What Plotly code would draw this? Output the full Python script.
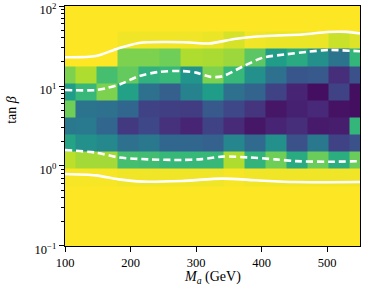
import plotly.graph_objects as go

# Grid: heavy Higgs mass (GeV) and tan(beta) cell centres
masses = [100, 132.1, 164.3, 196.4, 228.6, 260.7, 292.9, 325.0, 357.1, 389.3, 421.4, 453.6, 485.7, 517.9, 550]
tanb = [0.1, 0.164, 0.268, 0.439, 0.720, 1.18, 1.93, 3.16, 5.18, 8.48, 13.9, 22.8, 37.3, 61.1, 100]

Y1 = [1.0] * 15
row_a = [0.99, 0.99, 0.99, 0.98, 0.98, 0.98, 0.98, 0.98, 0.99, 0.98, 0.98, 0.98, 0.98, 0.98, 0.98]
row_b = [0.90, 0.86, 0.86, 0.70, 0.69, 0.67, 0.67, 0.67, 0.88, 0.65, 0.78, 0.61, 0.77, 0.62, 0.77]
row_c = [0.58, 0.50, 0.47, 0.37, 0.40, 0.33, 0.33, 0.31, 0.46, 0.34, 0.50, 0.25, 0.40, 0.20, 0.25]
row_d = [0.40, 0.41, 0.33, 0.17, 0.22, 0.14, 0.10, 0.20, 0.12, 0.06, 0.10, 0.13, 0.07, 0.08, 0.66]
row_e = [0.78, 0.38, 0.37, 0.33, 0.20, 0.19, 0.18, 0.28, 0.22, 0.15, 0.06, 0.09, 0.11, 0.05, 0.04]
row_f = [0.55, 0.67, 0.80, 0.57, 0.37, 0.30, 0.45, 0.55, 0.37, 0.32, 0.20, 0.10, 0.04, 0.20, 0.04]
row_g = [0.80, 0.88, 0.70, 0.76, 0.64, 0.67, 0.52, 0.80, 0.67, 0.50, 0.37, 0.27, 0.28, 0.13, 0.25]
row_h = [1.00, 1.00, 1.00, 0.80, 0.80, 0.78, 0.88, 0.87, 0.85, 0.74, 0.55, 0.61, 0.50, 0.38, 0.66]
row_i = [1.00, 1.00, 1.00, 0.98, 0.98, 0.98, 0.98, 0.97, 0.94, 0.98, 0.97, 0.97, 0.97, 0.92, 0.95]
z_rows = [Y1, Y1, Y1, Y1, row_a, row_b, row_c, row_d, row_e, row_f, row_g, row_h, row_i, Y1, Y1]

# Contour lines
up_solid_m = [100, 147, 181, 213, 254, 290, 320, 361, 406, 462, 500, 530, 550]
up_solid_t = [22.9, 23.7, 29.5, 34.5, 35.5, 35.0, 34.0, 39.0, 42.2, 44.0, 47.3, 47.5, 45.5]
up_dash_m = [100, 147, 165, 185, 213, 243, 278, 300, 322, 340, 371, 401, 437, 472, 503, 550]
up_dash_t = [8.9, 8.9, 9.5, 10.6, 13.3, 15.0, 15.4, 14.7, 13.0, 13.2, 17.5, 22.5, 24.9, 26.9, 28.2, 27.2]
lo_dash_m = [100, 147, 182, 227, 278, 309, 340, 380, 421, 452, 503, 550]
lo_dash_t = [1.58, 1.47, 1.28, 1.21, 1.19, 1.22, 1.31, 1.28, 1.21, 1.15, 1.13, 1.15]
lo_solid_m = [100, 147, 182, 218, 278, 340, 391, 452, 550]
lo_solid_t = [0.794, 0.764, 0.68, 0.637, 0.65, 0.695, 0.662, 0.63, 0.63]

xtick_vals = [100, 200, 300, 400, 500]
ytick_vals = [0.1, 1, 10, 100]
ytick_text = ["10<sup>−1</sup>", "10<sup>0</sup>", "10<sup>1</sup>", "10<sup>2</sup>"]

FONT = "Liberation Serif"

fig = go.Figure()
fig.add_trace(go.Heatmap(x=masses, y=tanb, z=z_rows, colorscale="Viridis",
                         zmin=0, zmax=1, showscale=False, zsmooth=False))
for mx, ty, dash in [(up_solid_m, up_solid_t, "solid"), (up_dash_m, up_dash_t, "7px,4px"),
                     (lo_dash_m, lo_dash_t, "7px,4px"), (lo_solid_m, lo_solid_t, "solid")]:
    fig.add_trace(go.Scatter(x=mx, y=ty, mode="lines", showlegend=False,
                             line=dict(color="white", width=2.6, dash=dash, shape="spline", smoothing=0.8)))

fig.update_layout(
    width=366, height=296,
    margin=dict(l=65, r=6, t=6, b=50),
    plot_bgcolor="white", paper_bgcolor="white",
    font=dict(family=FONT, size=12.5, color="black"),
    showlegend=False,
)
fig.update_xaxes(range=[100, 550], tickvals=xtick_vals, ticks="outside", ticklen=5,
                 tickwidth=1, tickcolor="black", showline=True, linecolor="black",
                 linewidth=1.2, mirror=True, showgrid=False, zeroline=False, automargin=False,
                 ticklabeloverflow="allow", tickfont=dict(family=FONT, size=12.5))
fig.update_yaxes(type="log", range=[-1.0005, 2.0005], tickvals=ytick_vals, ticktext=ytick_text,
                 ticks="outside", ticklen=5, tickwidth=1, tickcolor="black",
                 showline=True, linecolor="black", linewidth=1.2, mirror=True, automargin=False,
                 ticklabeloverflow="allow", ticklabelshift=4,
                 showgrid=False, zeroline=False, tickfont=dict(family=FONT, size=12.5),
                 minor=dict(ticks="outside", ticklen=3, tickcolor="black", dtick="D1", showgrid=False))

fig.add_annotation(text="<i>M</i><sub><i>a</i></sub> (GeV)", xref="paper", yref="paper",
                   x=0.5, y=-0.13, xanchor="center", yanchor="middle", showarrow=False,
                   font=dict(family=FONT, size=14))
fig.add_annotation(text="tan <i>β</i>", xref="paper", yref="paper", textangle=-90,
                   x=-0.18, y=0.567, xanchor="center", yanchor="middle", showarrow=False,
                   font=dict(family=FONT, size=14))

fig.write_html("out.html", config={"displayModeBar": False},
               post_script="document.body.style.margin='0';document.body.style.padding='0';")
